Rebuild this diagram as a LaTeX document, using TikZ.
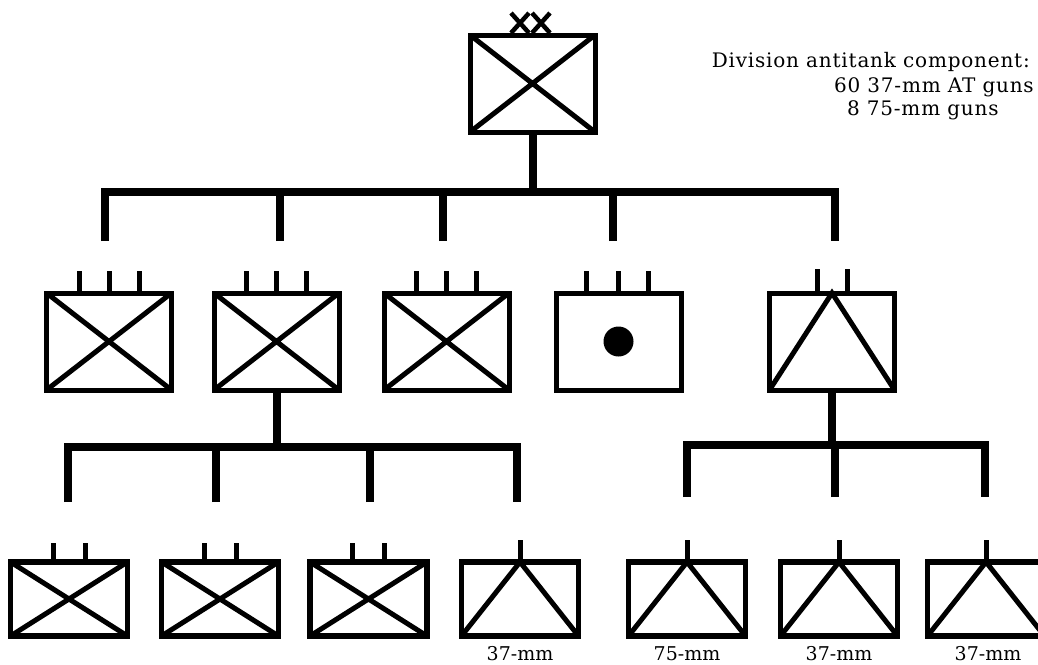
\documentclass[tikz,border=0pt]{standalone}
\usepackage{fontspec}
\setmainfont{DejaVu Serif}
\newfontfamily\notefont[LetterSpace=4]{DejaVu Serif}
\begin{document}
\begin{tikzpicture}[x=1pt,y=-1pt,
  unitbox/.style={draw, line width=5pt, minimum width=125pt, minimum height=97pt, inner sep=0pt, outer sep=0pt},
  smallbox/.style={draw, line width=5.5pt, minimum width=117pt, minimum height=74pt, inner sep=0pt, outer sep=0pt},
  diag/.style={line width=5pt},
  bar/.style={line width=8pt, line join=miter},
  tickline/.style={line width=5pt},
  lbl/.style={font=\fontsize{19}{22}\selectfont, inner sep=0pt, anchor=base},
  note/.style={font=\notefont\fontsize{20}{24}\selectfont, inner sep=0pt},
]
\useasboundingbox (0,0) rectangle (1038,664);
\fill[white] (0,0) rectangle (1038,664);
\clip (0,0) rectangle (1038,664);

% division
\node[unitbox] (T) at (532.5,83.5) {};
\draw[diag] (T.north west) -- (T.south east) (T.north east) -- (T.south west);
\draw[line width=4.5pt] (511,13) -- (529,33) (529,13) -- (511,33);
\draw[line width=4.5pt] (532,13) -- (550,33) (550,13) -- (532,33);

% text
\node[note, anchor=base east] (title) at (1030,67) {Division antitank component:};
\node[note, anchor=base east] (line1) at (1034,92) {60 37-mm AT guns};
\node[note, anchor=base west] (line2) at (line1.base west) [xshift=13pt, yshift=-23pt] {8 75-mm guns};

% second row
\node[unitbox] (B1) at (109,341.5) {};
\node[unitbox] (B2) at (276.5,341.5) {};
\node[unitbox] (B3) at (446.5,341.5) {};
\node[unitbox] (B4) at (618.5,341.5) {};
\node[unitbox] (B5) at (832,341.5) {};
\foreach \b in {B1,B2,B3}{
  \draw[diag] (\b.north west) -- (\b.south east) (\b.north east) -- (\b.south west);
  \foreach \dx in {-30,0,30} \draw[tickline] ([xshift=\dx pt]\b.north) -- ++(0,-22);
}
\foreach \dx in {-32,0,30} \draw[tickline] ([xshift=\dx pt]B4.north) -- ++(0,-22);
\node[circle, fill, minimum size=30pt, inner sep=0pt] (dot) at (B4.center) {};
\draw[diag] (B5.south west) -- (B5.north) -- (B5.south east);
\foreach \dx in {-15,15} \draw[tickline] ([xshift=\dx pt]B5.north) -- ++(0,-24);

% top bar
\coordinate (j0) at (533,192);
\coordinate (d1) at (105,241);
\coordinate (d2) at (280,241);
\coordinate (d3) at (443,241);
\coordinate (d4) at (613,241);
\coordinate (d5) at (835,241);
\draw[bar] (T.south) -- (T.south |- j0);
\draw[bar] (d1) -- (d1 |- j0) -- (d5 |- j0) -- (d5);
\draw[bar] (d2) -- (d2 |- j0) (d3) -- (d3 |- j0) (d4) -- (d4 |- j0);

% third row
\node[smallbox] (C1) at (69,599) {};
\node[smallbox] (C2) at (220,599) {};
\node[smallbox] (C3) at (368.5,599) {};
\node[smallbox] (C4) at (520,599) {};
\node[smallbox] (C5) at (687,599) {};
\node[smallbox] (C6) at (839,599) {};
\node[smallbox] (C7) at (986,599) {};
\foreach \b in {C1,C2,C3}{
  \draw[diag] (\b.north west) -- (\b.south east) (\b.north east) -- (\b.south west);
  \foreach \dx in {-16,16} \draw[tickline] ([xshift=\dx pt]\b.north) -- ++(0,-19);
}
\foreach \b in {C4,C5,C6,C7}{
  \draw[diag] (\b.south west) -- (\b.north) -- (\b.south east);
  \draw[tickline] (\b.north) -- ++(0,-22);
}
\node[lbl] (L4) at (520,660) {37-mm};
\node[lbl] (L5) at (687,660) {75-mm};
\node[lbl] (L6) at (839,660) {37-mm};
\node[lbl] (L7) at (988,660) {37-mm};

% lower bars
\coordinate (j1) at (277,447);
\coordinate (e1) at (68,502);
\coordinate (e2) at (216,502);
\coordinate (e3) at (370,502);
\coordinate (e4) at (517,502);
\draw[bar] (B2.south) -- (B2.south |- j1);
\draw[bar] (e1) -- (e1 |- j1) -- (e4 |- j1) -- (e4);
\draw[bar] (e2) -- (e2 |- j1) (e3) -- (e3 |- j1);

\coordinate (j2) at (835,445);
\coordinate (f1) at (687,497);
\coordinate (f2) at (835,497);
\coordinate (f3) at (985,497);
\draw[bar] (B5.south) -- (B5.south |- j2);
\draw[bar] (f1) -- (f1 |- j2) -- (f3 |- j2) -- (f3);
\draw[bar] (f2) -- (f2 |- j2);
\end{tikzpicture}
\end{document}
